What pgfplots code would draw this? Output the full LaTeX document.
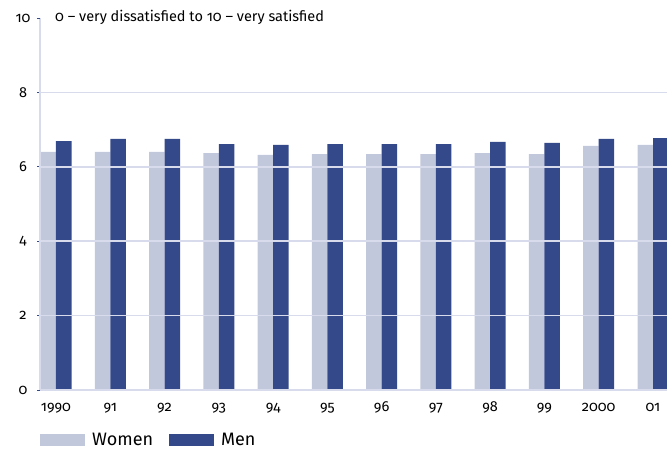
\documentclass[border=0pt]{standalone}
\usepackage{fontspec}
\setmainfont{Fira Sans}[RawFeature={+onum}]
\usepackage{pgfplots}
\pgfplotsset{compat=1.18}
\definecolor{women}{HTML}{C2C8DC}
\definecolor{men}{HTML}{34498A}
\definecolor{gridc}{HTML}{D8DBEB}
\definecolor{tickc}{HTML}{34498A}
\begin{document}
\begin{tikzpicture}
\begin{axis}[
  scale only axis,
  width=627pt, height=372pt,
  xmin=-0.2948, xmax=11.258,
  ymin=0, ymax=10,
  ybar=0pt, bar width=15.5pt,
  axis on top,
  axis x line=bottom, axis y line=left,
  axis line style={draw=gridc, line width=1.5pt, -},
  xtick={0,1,2,3,4,5,6,7,8,9,10,11},
  xticklabels={\mbox{1990},\mbox{91},\mbox{92},\mbox{93},\mbox{94},\mbox{95},\mbox{96},\mbox{97},\mbox{98},\mbox{99},\mbox{2000},\mbox{01}},
  xtick style={draw=none},
  xticklabel style={anchor=base, yshift=-19pt, font=\fontsize{14.5}{14.5}\selectfont},
  ytick={0,2,4,6,8},
  yticklabels={\mbox{0},\mbox{2},\mbox{4},\mbox{6},\mbox{8}},
  extra y ticks={10},
  extra y tick labels={\mbox{10}},
  extra y tick style={ymajorgrids=false},
  ymajorgrids,
  grid style={draw=gridc, line width=1.5pt},
  tick align=outside,
  major tick length=3pt,
  ytick style={draw=tickc, line width=0.8pt},
  yticklabel style={anchor=center, xshift=-14pt, font=\fontsize{14.5}{14.5}\selectfont},
  legend columns=2,
  legend style={draw=none, fill=none, at={(rel axis cs:0,0)}, anchor=west,
    yshift=-50pt, inner sep=0pt, font=\fontsize{18}{18}\selectfont,
    /tikz/every odd column/.append style={column sep=5pt},
    /tikz/every even column/.append style={column sep=14pt}},
  legend image code/.code={\fill[#1] (0pt,-6pt) rectangle (45pt,6pt);},
]
\addplot[fill=women, draw=none] coordinates {
(0,6.40) (1,6.40) (2,6.40) (3,6.37) (4,6.32) (5,6.34) (6,6.34) (7,6.34) (8,6.37) (9,6.34) (10,6.56) (11,6.59)};
\addplot[fill=men, draw=none] coordinates {
(0,6.69) (1,6.75) (2,6.75) (3,6.61) (4,6.59) (5,6.61) (6,6.61) (7,6.61) (8,6.67) (9,6.64) (10,6.75) (11,6.77)};
\legend{Women, Men}
\end{axis}
\node[anchor=base west, font=\fontsize{14.5}{14.5}\selectfont, inner sep=0pt]
  at ([shift={(15pt,-4pt)}]current axis.north west) {0 – very dissatisfied to 10 – very satisfied};
\pgfresetboundingbox
\path ([shift={(-40pt,-59pt)}]current axis.south west) rectangle ([shift={(0pt,18pt)}]current axis.north east);
\end{tikzpicture}
\end{document}
